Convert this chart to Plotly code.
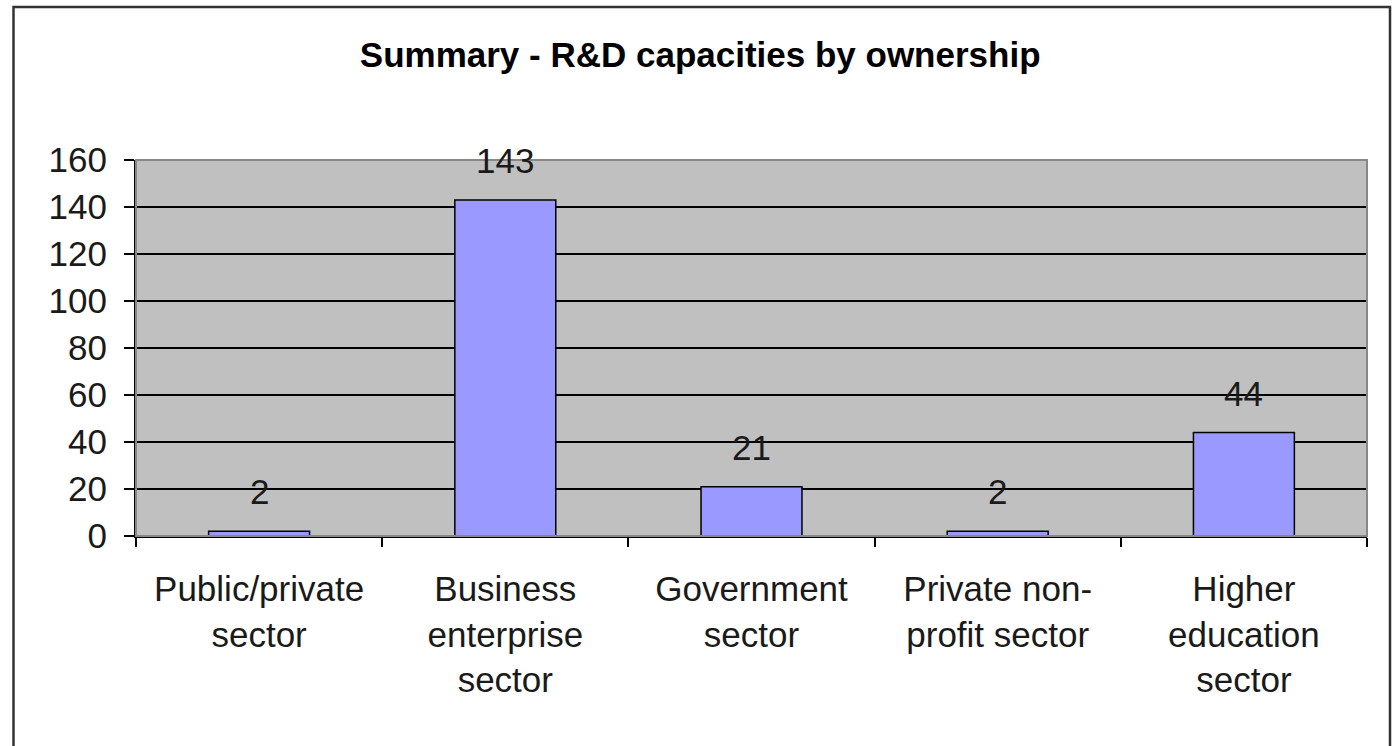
import plotly.graph_objects as go

categories = ["Public/private<br>sector", "Business<br>enterprise<br>sector", "Government<br>sector",
              "Private non-<br>profit sector", "Higher<br>education<br>sector"]
values = [2, 143, 21, 2, 44]
y_ticks = [0, 20, 40, 60, 80, 100, 120, 140, 160]

FONT = "Liberation Sans, Arial, sans-serif"
TXT = "#1a1a1a"

fig = go.Figure()
fig.add_trace(go.Bar(
    x=categories, y=values,
    marker=dict(color="#9999FF", line=dict(color="#000000", width=1.5)),
    width=0.41,
))

for c, v in zip(categories, values):
    fig.add_annotation(x=c, y=v, text=str(v), showarrow=False, yanchor="bottom",
                       yshift=18, font=dict(family=FONT, size=35, color=TXT))

L, R, T, B = 136, 25, 160, 210
W, H = 1392 - L - R, 746 - T - B

# outer chart border
fig.add_shape(type="rect", xref="paper", yref="paper",
              x0=(13.5 - L) / W, x1=(1390 - L) / W,
              y0=(536 - 760) / H, y1=(536 - 7) / H,
              line=dict(color="#333333", width=2.5), layer="below")
# plot area border (top/right grey)
fig.add_shape(type="rect", xref="paper", yref="paper", x0=0, x1=1, y0=0, y1=1,
              line=dict(color="#888888", width=2), layer="above")

fig.update_layout(
    width=1392, height=746,
    margin=dict(l=L, r=R, t=T, b=B, pad=0),
    paper_bgcolor="#FFFFFF", plot_bgcolor="#C0C0C0",
    showlegend=False,
    bargap=0.59,
    title=dict(text="<b>Summary - R&D capacities by ownership</b>", x=0.503, xref="container",
               xanchor="center", y=1 - 55 / 746, yanchor="middle",
               font=dict(family=FONT, size=35, color="#000")),
    font=dict(family=FONT, color=TXT),
)
fig.update_xaxes(
    type="category", showgrid=False, showline=True, linecolor="#000", linewidth=2,
    ticks="outside", tickson="boundaries", ticklen=9, tickwidth=2, tickcolor="#000",
    tickfont=dict(family=FONT, size=35, color=TXT), ticklabelstandoff=21,
)
fig.update_yaxes(
    range=[0, 160], tickvals=y_ticks, showgrid=True, gridcolor="#000", gridwidth=1.5,
    showline=True, linecolor="#000", linewidth=2, zeroline=False,
    ticks="outside", ticklen=10, tickwidth=2, tickcolor="#000",
    tickfont=dict(family=FONT, size=35, color=TXT), ticklabelstandoff=10,
)

fig.write_html("out.html")
